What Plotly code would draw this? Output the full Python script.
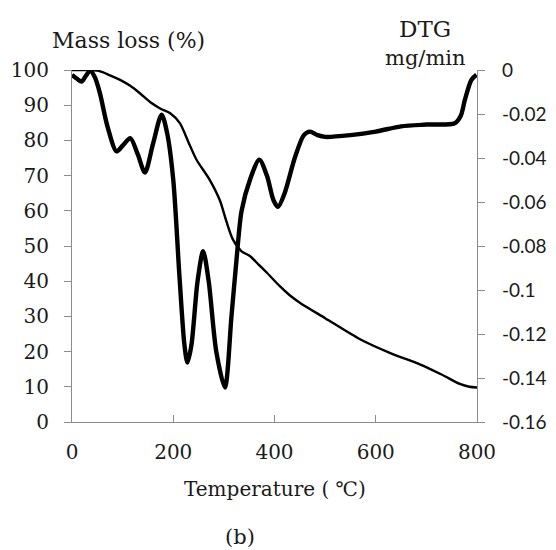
import plotly.graph_objects as go

# TG curve (left axis, mass loss %)
tg_temp = [0, 30, 51, 75, 95, 115, 134, 157, 175, 194, 213, 230, 246, 272, 292, 305, 318,
           335, 352, 368, 385, 411, 430, 450, 500, 569, 630, 687, 730, 766, 785, 800]
tg_mass = [100, 100, 99.8, 98.5, 97.2, 95.5, 93.4, 90.6, 89, 87.7, 84.9, 79.5, 74.5, 68.8, 63, 57, 51.8,
           48.5, 47.1, 44.8, 42.4, 38.5, 36, 33.9, 29.5, 23.5, 19.5, 16.4, 13.5, 10.8, 10, 9.8]

# DTG curve (right axis, mg/min)
dtg_temp = [0, 10, 19, 28, 36, 45, 55, 70, 88, 100, 115, 130, 144, 160, 177, 188, 200, 212, 222,
            228, 236, 248, 259, 270, 285, 302, 315, 325, 335, 352, 370, 385, 398, 407, 420, 440,
            458, 470, 485, 500, 550, 600, 650, 700, 756, 768, 776, 789, 799]
dtg_val = [-0.0022, -0.0040, -0.0053, -0.0024, -0.0003, -0.0032, -0.0104, -0.0256, -0.0370, -0.0344,
           -0.0310, -0.0384, -0.0466, -0.0336, -0.0203, -0.0288, -0.0499, -0.0928, -0.1248,
           -0.1330, -0.1248, -0.0960, -0.0824, -0.0960, -0.1280, -0.1443, -0.1120, -0.0861, -0.0640,
           -0.0496, -0.0408, -0.0480, -0.0592, -0.0622, -0.0560, -0.0400,
           -0.0296, -0.0280, -0.0296, -0.0304, -0.0296, -0.0280, -0.0256, -0.0248, -0.0242,
           -0.0208, -0.0136, -0.0045, -0.0022]

x_ticks = [0, 200, 400, 600, 800]
left_ticks = [0, 10, 20, 30, 40, 50, 60, 70, 80, 90, 100]
right_ticks = [0, -0.02, -0.04, -0.06, -0.08, -0.1, -0.12, -0.14, -0.16]
right_labels = ["0", "-0.02", "-0.04", "-0.06", "-0.08", "-0.1", "-0.12", "-0.14", "-0.16"]

SERIF = "DejaVu Serif"
AX = "#8c8c8c"
TXT = "#1a1a1a"

W, H = 556, 550
OFF = 8  # page body margin
L, R, T, B = 72 - OFF, 79 + OFF, 70 - OFF, 128 + OFF

fig = go.Figure()
fig.add_trace(go.Scatter(x=dtg_temp, y=dtg_val, mode="lines", yaxis="y2",
                         line=dict(color="black", width=4.4, shape="spline", smoothing=0.8),
                         showlegend=False))
fig.add_trace(go.Scatter(x=tg_temp, y=tg_mass, mode="lines", yaxis="y",
                         line=dict(color="black", width=2.4, shape="spline", smoothing=0.8),
                         showlegend=False))

# annotation positions given in target-pixel coordinates, converted to paper coords
ann_specs = [
    ("Mass loss (%)", 128, 40, 22),
    ("DTG", 425, 29, 23),
    ("mg/min", 425, 58, 21),
    ("Temperature ( ℃)", 275, 489, 20),
    ("(b)", 240, 537, 21),
]
pw, ph = W - L - R, H - T - B
annotations = []
for text, px, py, fs in ann_specs:
    annotations.append(dict(
        text=text, xref="paper", yref="paper",
        x=(px - OFF - L) / pw, y=1 - (py - OFF - T) / ph,
        xanchor="center", yanchor="middle", showarrow=False,
        font=dict(family=SERIF, size=fs, color=TXT)))

fig.update_layout(
    width=W, height=H,
    margin=dict(l=L, r=R, t=T, b=B, autoexpand=False),
    paper_bgcolor="white", plot_bgcolor="white",
    xaxis=dict(range=[0, 800], tickvals=x_ticks, ticktext=[str(v) for v in x_ticks],
               showgrid=False, zeroline=False, showline=True, linecolor=AX, linewidth=1.2,
               ticks="inside", ticklen=7, tickcolor=AX, ticklabelstandoff=12, automargin=False,
               tickfont=dict(family=SERIF, size=20, color=TXT)),
    yaxis=dict(range=[0, 100], tickvals=left_ticks, ticktext=[str(v) for v in left_ticks],
               showgrid=False, zeroline=False, showline=True, linecolor=AX, linewidth=1.2,
               ticks="outside", ticklen=7, tickcolor=AX, ticklabelstandoff=11, automargin=False,
               tickfont=dict(family=SERIF, size=20, color=TXT)),
    yaxis2=dict(range=[-0.16, 0], overlaying="y", side="right", tickvals=right_ticks,
                ticktext=right_labels, showgrid=False, zeroline=False, showline=True,
                linecolor=AX, linewidth=1.2, ticks="outside", ticklen=7, tickcolor=AX,
                ticklabelstandoff=13, automargin=False,
                tickfont=dict(family="Lato", size=19, color=TXT)),
    annotations=annotations,
)

fig.write_html("out.html")
